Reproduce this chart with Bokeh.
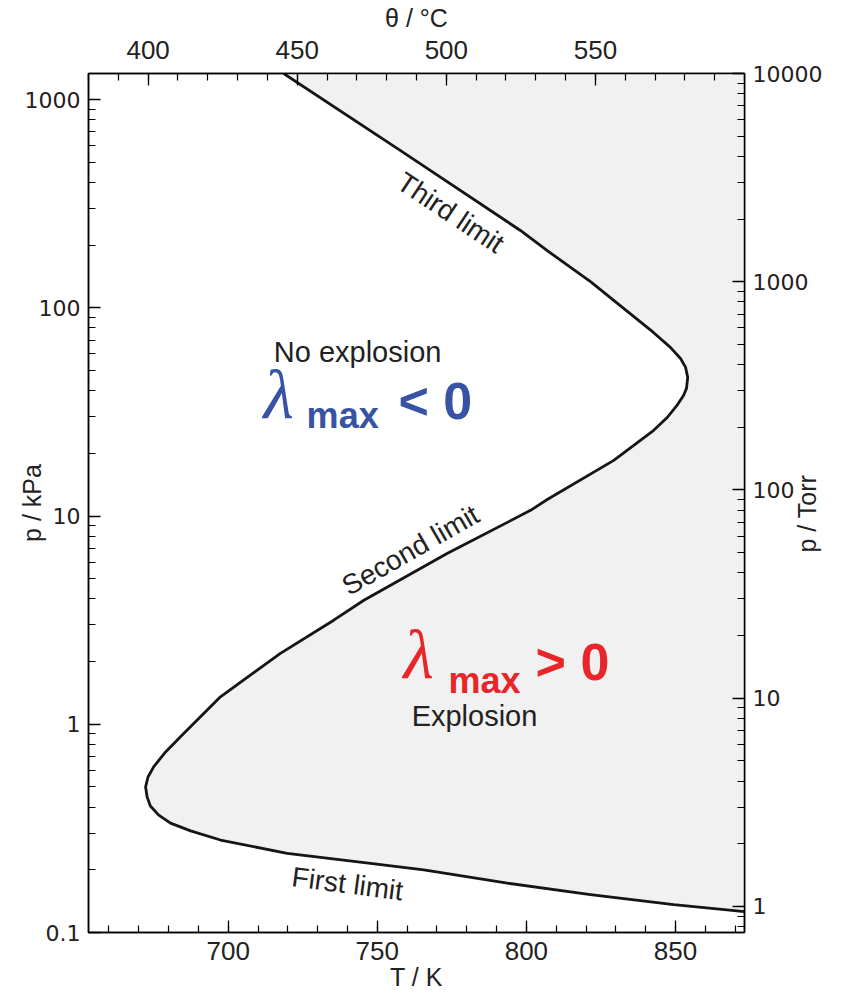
import math
from bokeh.plotting import figure
from bokeh.models import (Range1d, LinearAxis, LogAxis, LogScale, FixedTicker,
                          CustomJSTickFormatter)
from bokeh.core.properties import value
from bokeh.embed import file_html
from bokeh.resources import INLINE

# ---- data: H2/O2 explosion limits (T in K, p in kPa) ----
T_K = [718.6, 757.8, 798.0, 807.0, 821.5, 834.9, 842.6, 848.3, 851.7, 853.4,
       854.1, 853.7, 852.7, 850.7, 847.3, 842.7, 829.3, 807.0, 801.4, 773.4,
       745.5, 735.4, 717.5, 697.4, 684.0, 679.0, 675.05, 673.1, 672.3, 672.8,
       673.9, 676.6, 680.65, 687.4, 697.4, 719.8, 747.7, 765.6, 793.6, 821.5,
       849.4, 873.15]
p_kPa = [1333.22, 568.0, 235.0, 188.0, 133.6, 93.5, 76.1, 64.5, 57.1, 51.7,
         46.3, 41.0, 37.9, 34.3, 29.8, 25.8, 18.5, 12.0, 10.65, 6.60,
         3.94, 3.16, 2.19, 1.355, 0.871, 0.736, 0.626, 0.558, 0.500, 0.448,
         0.405, 0.367, 0.335, 0.3075, 0.278, 0.240, 0.215, 0.200, 0.1725, 0.152,
         0.136, 0.126]

T_range = (653.15, 873.15)           # K  (380 - 600 degC)
p_range = (0.1, 1333.22)             # kPa (0.75 - 10000 Torr)
K_ticks = [700, 750, 800, 850]
C_ticks = [400, 450, 500, 550]
kPa_ticks = [0.1, 1, 10, 100, 1000]
Torr_ticks = [1, 10, 100, 1000, 10000]

TXT = "#222222"
SANS = "Liberation Sans"
WIDE = "DejaVu Sans"

p = figure(width=842, height=993, x_range=Range1d(*T_range),
           y_range=Range1d(*p_range), y_axis_type="log",
           output_backend="svg", toolbar_location=None,
           min_border_left=88, min_border_right=98,
           min_border_top=73, min_border_bottom=60)
p.grid.visible = False
p.outline_line_color = "black"
p.outline_line_width = 1.5
p.background_fill_color = "white"
p.border_fill_color = "white"

p.extra_x_ranges = {"C": Range1d(T_range[0] - 273.15, T_range[1] - 273.15)}
p.extra_y_ranges = {"torr": Range1d(p_range[0] / 0.133322, p_range[1] / 0.133322)}
p.extra_y_scales = {"torr": LogScale()}

# explosion region fill + limit curve
p.patch(T_K + [T_range[1]], p_kPa + [p_range[1]], fill_color="#f1f1f1",
        line_color=None)
p.line(T_K, p_kPa, line_color="#151515", line_width=2.8, line_join="round")

fmt = CustomJSTickFormatter(code="return tick.toString();")

def minor_log(lo, hi):
    out = []
    d = lo
    while d < hi:
        out += [d * k for k in range(1, 10)]
        d *= 10
    return out

def style(ax, font, size, major_in=12, minor_in=7):
    ax.major_tick_in = major_in
    ax.major_tick_out = 0
    ax.minor_tick_in = minor_in
    ax.minor_tick_out = 0
    ax.axis_line_width = 1.5
    ax.major_tick_line_width = 1.3
    ax.minor_tick_line_width = 1.2
    ax.major_label_text_font = font
    ax.major_label_text_font_size = size
    ax.major_label_text_color = TXT
    ax.axis_label_text_font = SANS
    ax.axis_label_text_font_size = "25px"
    ax.axis_label_text_font_style = "normal"
    ax.axis_label_text_color = TXT

# bottom axis (K)
xb = p.xaxis[0]
xb.ticker = FixedTicker(ticks=K_ticks, minor_ticks=list(range(660, 871, 10)))
xb.axis_label = "T / K"
style(xb, SANS, "26px")
xb.major_label_standoff = 9
xb.axis_label_standoff = 0

# left axis (kPa)
yl = p.yaxis[0]
yl.ticker = FixedTicker(ticks=kPa_ticks, minor_ticks=minor_log(0.1, 1000) + [1000 * k for k in range(2, 10)])
yl.formatter = fmt
yl.axis_label = "p / kPa"
style(yl, WIDE, "22px")
yl.major_label_standoff = 8
yl.axis_label_standoff = -24

# top axis (degC)
xt = LinearAxis(x_range_name="C", axis_label="θ / °C",
                ticker=FixedTicker(ticks=C_ticks, minor_ticks=list(range(380, 601, 10))))
style(xt, SANS, "26px")
xt.major_label_standoff = 15
xt.axis_label_standoff = 6
p.add_layout(xt, "above")

# right axis (Torr); title reads bottom-to-top, starting from the axis start
yr = LogAxis(y_range_name="torr",
             axis_label="\u2003" * 15 + "\u2009" + "p / Torr",
             ticker=FixedTicker(ticks=Torr_ticks, minor_ticks=[0.8, 0.9] + minor_log(1, 10000)),
             formatter=fmt)
style(yr, WIDE, "22px")
yr.major_label_standoff = 8
yr.axis_label_standoff = -18
yr.axis_label_orientation = math.pi / 2
yr.axis_label_align = "start"
p.add_layout(yr, "right")

# curve labels
LBL = dict(text_font=value(SANS), text_font_size="28px", text_align="center",
           text_baseline="middle", text_color=TXT)
p.text(x=[774.6], y=[286.3], text=["Third limit"], angle=-0.585, **LBL)
p.text(x=[761.1], y=[6.85], text=["Second limit"], angle=0.52, **LBL)
p.text(x=[740.0], y=[0.1713], text=["First limit"], angle=-0.13, **LBL)

# region labels
REG = dict(text_font=value(SANS), text_font_size="29px", text_align="center",
           text_baseline="middle", text_color=TXT)
p.text(x=[743.4], y=[61.0], text=["No explosion"], **REG)
p.text(x=[782.6], y=[1.095], text=["Explosion"], **REG)

BLUE = "#3853a4"
RED = "#e8262a"
LAM = dict(text_font=value("Liberation Serif"), text_font_style="italic",
           text_font_size="70px", text_align="left", text_baseline="middle")
SUB = dict(text_font=value(SANS), text_font_style="bold", text_font_size="36px",
           text_align="left", text_baseline="middle")
REL = dict(text_font=value(SANS), text_font_style="bold", text_font_size="52px",
           text_align="left", text_baseline="middle")
# lambda_max < 0
p.text(x=[711.8], y=[38.4], text=["λ"], text_color=BLUE, **LAM)
p.text(x=[726.3], y=[30.4], text=["max"], text_color=BLUE, **SUB)
p.text(x=[757.1], y=[35.8], text=["< 0"], text_color=BLUE, **REL)
# lambda_max > 0
p.text(x=[758.8], y=[2.171], text=["λ"], text_color=RED, **LAM)
p.text(x=[773.9], y=[1.63], text=["max"], text_color=RED, **SUB)
p.text(x=[803.1], y=[2.0], text=["> 0"], text_color=RED, **REL)

open("out.html", "w").write(file_html(p, INLINE))
